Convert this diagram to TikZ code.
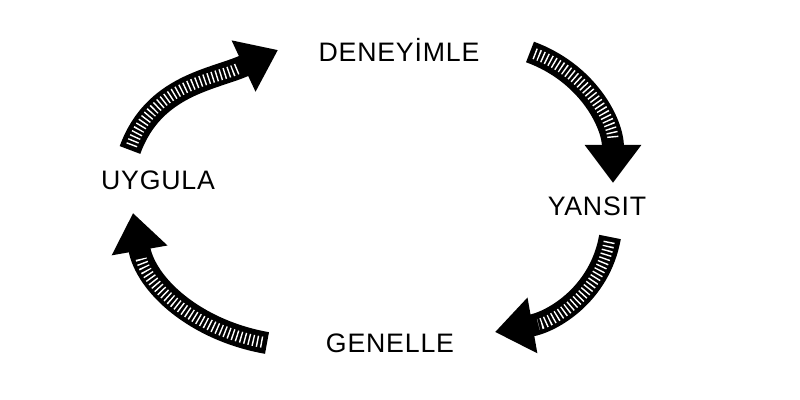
\documentclass[tikz,border=0pt]{standalone}
\usepackage{fontspec}
\setmainfont{Liberation Sans}[LetterSpace=3]
\usetikzlibrary{arrows.meta}

\begin{document}
\begin{tikzpicture}[
  steplabel/.style={font=\fontsize{19}{22}\selectfont, anchor=base, inner sep=0pt},
  fatarrow/.style={line width=0.55cm, -{Triangle[length=0.95cm,width=1.35cm]}},
  hatch/.style={white, line width=0.28cm, dash pattern=on 1pt off 2pt,
                shorten >=1.1cm, shorten <=0.12cm}
]
\useasboundingbox (0,0) rectangle (20,10);

% the four steps
\node[steplabel] (deneyimle) at (9.975,8.46) {DENEYİMLE};
\node[steplabel] (yansit)    at (14.925,4.61) {YANSIT};
\node[steplabel] (genelle)   at (9.75,1.19)  {GENELLE};
\node[steplabel] (uygula)    at (3.95,5.25)  {UYGULA};

% arrow ends
\coordinate (a1) at (3.25,6.25);
\coordinate (b1) at (6.95,8.75);
\coordinate (a2) at (13.25,8.7);
\coordinate (b2) at (15.325,5.425);
\coordinate (a3) at (15.25,4.075);
\coordinate (b3) at (12.375,1.7);
\coordinate (a4) at (6.675,1.425);
\coordinate (b4) at (3.325,4.675);

% sketchy arrows
\foreach \s/\e/\o/\i in {a1/b1/70/205, a2/b2/-20/90, a3/b3/-100/10, a4/b4/170/-80} {
  \draw[fatarrow] (\s) to[out=\o,in=\i] (\e);
  \draw[hatch] (\s) to[out=\o,in=\i] (\e);
}
\end{tikzpicture}
\end{document}
